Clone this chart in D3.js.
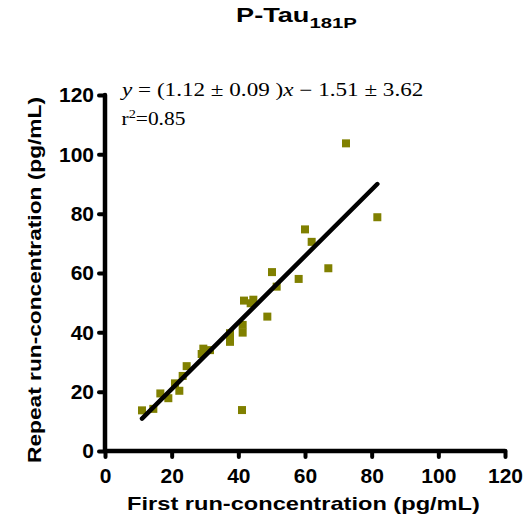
<!DOCTYPE html>
<html>
<head>
<meta charset="utf-8">
<script src="https://cdn.jsdelivr.net/npm/d3@7/dist/d3.min.js"></script>
<style>
  body { margin: 0; background: #fff; }
  svg { display: block; }
</style>
</head>
<body>
<div id="chart"></div>
<script>
/* --------------------------------------------------------------
DATOS
-------------------------------------------------------------- */

const FIRST_RUN = [11.1, 14.5, 16.6, 19.0, 21.0, 22.3, 23.3, 24.5, 29.0, 29.5,
                   31.5, 37.5, 37.5, 37.5, 41.3, 41.3, 41.1, 41.7, 43.7, 44.5,
                   48.7, 50.1, 51.5, 58.1, 60.0, 62.0, 67.0, 72.3, 81.7];
const REPEAT_RUN = [13.7, 14.2, 19.4, 17.8, 22.8, 20.3, 25.3, 28.6, 32.7, 34.5,
                    34.0, 36.8, 38.5, 39.7, 39.9, 42.5, 13.8, 50.7, 49.8, 51.0,
                    45.3, 60.3, 55.4, 58.0, 74.7, 70.5, 61.6, 103.7, 78.8];

const SLOPE = 1.12;
const INTERCEPT = -1.51;
const TICKS = [0, 20, 40, 60, 80, 100, 120];

/* --------------------------------------------------------------
SVG + ESCALAS
-------------------------------------------------------------- */

const width = 529, height = 523;
const svg = d3.select("#chart").append("svg")
    .attr("width", width)
    .attr("height", height);

const x = d3.scaleLinear().domain([0, 120]).range([105, 505]);
const y = d3.scaleLinear().domain([0, 120]).range([451, 95]);

const sans = "'Liberation Sans', Arial, sans-serif";
const serif = "'Liberation Serif', 'Times New Roman', serif";

// estira un texto en horizontal hasta el ancho del original
function stretch(sel, tx, ty, targetWidth, rotate) {
    sel.attr("x", 0).attr("y", 0);
    const w = sel.node().getBBox().width;
    const rot = rotate ? ` rotate(${rotate})` : "";
    sel.attr("transform", `translate(${tx},${ty})${rot} scale(${targetWidth / w},1)`);
}

/* --------------------------------------------------------------
EJES
-------------------------------------------------------------- */

const xAxis = svg.append("g")
    .attr("transform", `translate(0,${y(0)})`)
    .call(d3.axisBottom(x).tickValues(TICKS).tickSize(6).tickPadding(11));

const yAxis = svg.append("g")
    .attr("transform", `translate(${x(0)},0)`)
    .call(d3.axisLeft(y).tickValues(TICKS).tickSize(6).tickPadding(5));

[xAxis, yAxis].forEach(g => {
    g.select(".domain").remove();
    g.selectAll(".tick line")
        .attr("stroke", "#000")
        .attr("stroke-width", 4)
        .attr("stroke-linecap", "round");
    g.selectAll(".tick text")
        .attr("fill", "#000")
        .style("font-family", sans)
        .style("font-size", "21px")
        .style("font-weight", "bold");
});

// lineas de eje gruesas
svg.append("line")
    .attr("x1", x(0)).attr("x2", x(120))
    .attr("y1", y(0)).attr("y2", y(0))
    .attr("stroke", "#000").attr("stroke-width", 4.5)
    .attr("stroke-linecap", "round");
svg.append("line")
    .attr("x1", x(0)).attr("x2", x(0))
    .attr("y1", y(0)).attr("y2", y(120))
    .attr("stroke", "#000").attr("stroke-width", 4.5)
    .attr("stroke-linecap", "round");

/* --------------------------------------------------------------
PUNTOS
-------------------------------------------------------------- */

const size = 8;
svg.append("g").selectAll("rect")
    .data(d3.zip(FIRST_RUN, REPEAT_RUN))
    .enter()
    .append("rect")
    .attr("x", d => x(d[0]) - size / 2)
    .attr("y", d => y(d[1]) - size / 2)
    .attr("width", size)
    .attr("height", size)
    .attr("fill", "#808000");

/* --------------------------------------------------------------
RECTA DE REGRESION
-------------------------------------------------------------- */

const [xMin, xMax] = d3.extent(FIRST_RUN);
svg.append("line")
    .attr("x1", x(xMin)).attr("y1", y(SLOPE * xMin + INTERCEPT))
    .attr("x2", x(xMax)).attr("y2", y(SLOPE * xMax + INTERCEPT))
    .attr("stroke", "#000")
    .attr("stroke-width", 4.5)
    .attr("stroke-linecap", "round");

/* --------------------------------------------------------------
TEXTOS
-------------------------------------------------------------- */

const title = svg.append("text")
    .attr("text-anchor", "middle")
    .style("font-family", sans)
    .style("font-weight", "bold")
    .style("font-size", "20px");
title.append("tspan").text("P-Tau");
title.append("tspan").attr("dy", 6).style("font-size", "15px").text("181P");
stretch(title, 296.5, 22, 121);

const eq = svg.append("text")
    .style("font-family", serif)
    .style("font-size", "18px");
eq.append("tspan").style("font-style", "italic").text("y");
eq.append("tspan").text(" = (1.12 ± 0.09 )");
eq.append("tspan").style("font-style", "italic").text("x");
eq.append("tspan").text(" \u2212 1.51 ± 3.62");
stretch(eq, 122, 96, 304);

const r2 = svg.append("text")
    .style("font-family", serif)
    .style("font-size", "18px");
r2.append("tspan").text("r");
r2.append("tspan").attr("dy", -7).style("font-size", "12px").text("2");
r2.append("tspan").attr("dy", 7).text("=0.85");
stretch(r2, 121.5, 125, 64);

const xLabel = svg.append("text")
    .attr("text-anchor", "middle")
    .style("font-family", sans)
    .style("font-weight", "bold")
    .style("font-size", "19px")
    .text("First run-concentration (pg/mL)");
stretch(xLabel, 303.5, 510, 353);

const yLabel = svg.append("text")
    .attr("text-anchor", "middle")
    .style("font-family", sans)
    .style("font-weight", "bold")
    .style("font-size", "19px")
    .text("Repeat run-concentration (pg/mL)");
stretch(yLabel, 41, 280, 366, -90);
</script>
</body>
</html>
